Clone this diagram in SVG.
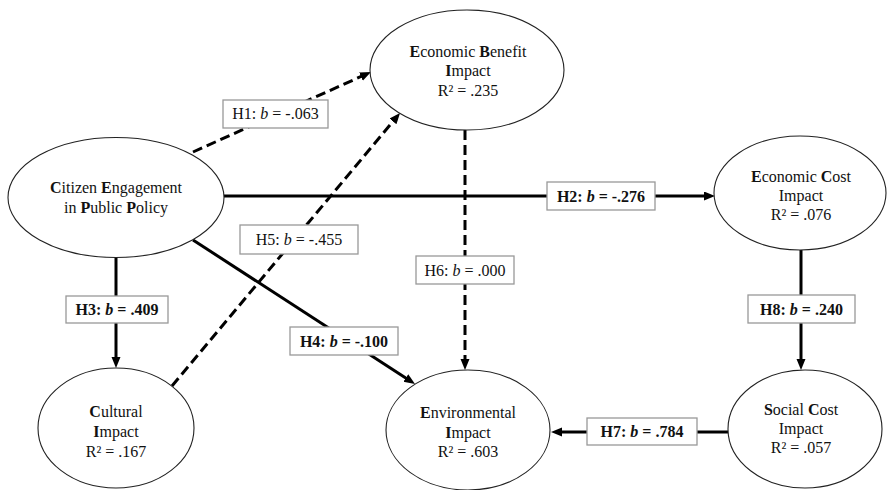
<svg xmlns="http://www.w3.org/2000/svg" width="887" height="490" viewBox="0 0 887 490">
<style>
.node ellipse{fill:#fff;stroke:#222;stroke-width:1.1}
.node text{font-family:"Liberation Serif","Times New Roman",serif;font-size:16px;fill:#111;text-anchor:middle}
.b{font-weight:bold}
.solid{stroke:#000;stroke-width:3;fill:none}
.dash{stroke:#000;stroke-width:3;fill:none;stroke-dasharray:10 5}
.lbl rect{fill:#fff;stroke:#999;stroke-width:1.3}
.lbl text{font-family:"Liberation Serif","Times New Roman",serif;font-size:16px;fill:#111;text-anchor:middle}
.lbl.bold text{font-weight:bold}
.i{font-style:italic}
</style>
<defs>
<marker id="ah" markerUnits="userSpaceOnUse" markerWidth="12" markerHeight="10" refX="5" refY="4.5" orient="auto">
<path d="M0,0 L11,4.5 L0,9 z" fill="#000"/>
</marker>
</defs>
<g id="connectors">
<g id="e-h1"><path class="dash" d="M193,152 L365.5,74.5" marker-end="url(#ah)"/></g>
<g id="e-h5"><path class="dash" d="M172,386 L396.2,117.6" marker-end="url(#ah)"/></g>
<g id="e-h2"><path class="solid" d="M224,196 L709,196" marker-end="url(#ah)"/></g>
<g id="e-h3"><path class="solid" d="M116,257 L116,362" marker-end="url(#ah)"/></g>
<g id="e-h4"><path class="solid" d="M193,240 L410,380.7" marker-end="url(#ah)"/></g>
<g id="e-h6"><path class="dash" d="M465,130 L465,364" marker-end="url(#ah)"/></g>
<g id="e-h8"><path class="solid" d="M801,250 L801,364" marker-end="url(#ah)"/></g>
<g id="e-h7"><path class="solid" d="M728,432 L557,432" marker-end="url(#ah)"/></g>
<g class="lbl"><rect x="223" y="100" width="105" height="28"/><text x="275.5" y="119">H1: <tspan class="i">b</tspan> = -.063</text></g>
<g class="lbl"><rect x="240" y="225" width="118" height="29"/><text x="299" y="245">H5: <tspan class="i">b</tspan> = -.455</text></g>
<g class="lbl bold"><rect x="547" y="182" width="108" height="28"/><text x="601" y="202">H2: <tspan class="i">b</tspan> = -.276</text></g>
<g class="lbl bold"><rect x="66" y="296" width="102" height="27"/><text x="117" y="315">H3: <tspan class="i">b</tspan> = .409</text></g>
<g class="lbl bold"><rect x="290" y="327" width="108" height="28"/><text x="344" y="347">H4: <tspan class="i">b</tspan> = -.100</text></g>
<g class="lbl"><rect x="416" y="256" width="98" height="28"/><text x="465" y="276">H6: <tspan class="i">b</tspan> = .000</text></g>
<g class="lbl bold"><rect x="748" y="295" width="107" height="28"/><text x="801.5" y="315">H8: <tspan class="i">b</tspan> = .240</text></g>
<g class="lbl bold"><rect x="587" y="418" width="110" height="27"/><text x="642" y="437">H7: <tspan class="i">b</tspan> = .784</text></g>
</g>
<g id="citizen" class="node">
<ellipse cx="116" cy="197.5" rx="108" ry="60"/>
<text x="116" y="193"><tspan class="b">C</tspan>itizen <tspan class="b">E</tspan>ngagement</text>
<text x="116" y="213">in <tspan class="b">P</tspan>ublic <tspan class="b">P</tspan>olicy</text>
</g>
<g id="econ-benefit" class="node">
<ellipse cx="467" cy="70" rx="97" ry="60"/>
<text x="468" y="57"><tspan class="b">E</tspan>conomic <tspan class="b">B</tspan>enefit</text>
<text x="468" y="76"><tspan class="b">I</tspan>mpact</text>
<text x="468" y="96">R² = .235</text>
</g>
<g id="econ-cost" class="node">
<ellipse cx="800" cy="193" rx="86" ry="57"/>
<text x="801" y="182"><tspan class="b">E</tspan>conomic <tspan class="b">C</tspan>ost</text>
<text x="801" y="201">Impact</text>
<text x="801" y="220">R² = .076</text>
</g>
<g id="cultural" class="node">
<ellipse cx="116" cy="428" rx="78" ry="60"/>
<text x="116" y="417"><tspan class="b">C</tspan>ultural</text>
<text x="116" y="437"><tspan class="b">I</tspan>mpact</text>
<text x="116" y="457">R² = .167</text>
</g>
<g id="environmental" class="node">
<ellipse cx="468" cy="430" rx="82" ry="60"/>
<text x="468" y="418"><tspan class="b">E</tspan>nvironmental</text>
<text x="468" y="438"><tspan class="b">I</tspan>mpact</text>
<text x="468" y="457">R² = .603</text>
</g>
<g id="social-cost" class="node">
<ellipse cx="805" cy="429" rx="77" ry="59"/>
<text x="801" y="415"><tspan class="b">S</tspan>ocial <tspan class="b">C</tspan>ost</text>
<text x="801" y="434">Impact</text>
<text x="801" y="453">R² = .057</text>
</g>
</svg>
